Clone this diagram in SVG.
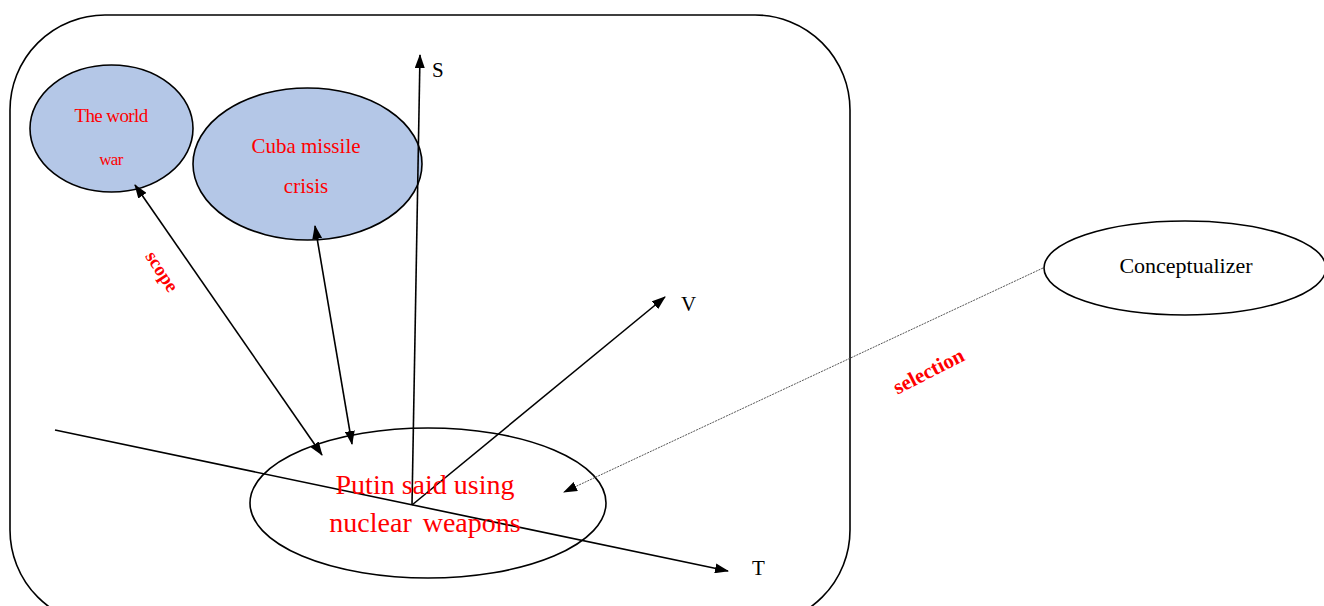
<svg xmlns="http://www.w3.org/2000/svg" width="1324" height="606" viewBox="0 0 1324 606">
<style>
.ln{stroke:#000;stroke-width:1.6;fill:none}
.blue{fill:#b4c7e7;stroke:#000;stroke-width:1.6}
.wht{fill:#fff;stroke:#000;stroke-width:1.6}
.red{fill:#ff0000;font-family:"Liberation Serif",serif;text-anchor:middle}
.blk{fill:#000;font-family:"Liberation Serif",serif}
</style>
<defs>
<marker id="ah" viewBox="0 0 14 10" refX="13" refY="5" markerWidth="14" markerHeight="10" markerUnits="userSpaceOnUse" orient="auto-start-reverse">
<path d="M0,0 L14,5 L0,10 z" fill="#000"/>
</marker>
</defs>
<rect x="10" y="15" width="840" height="610" rx="95" ry="95" fill="none" stroke="#000" stroke-width="1.6"/>
<g id="worldwar">
<ellipse class="blue" cx="111.5" cy="128.5" rx="81.5" ry="63.5"/>
<text class="red" x="111" y="122" font-size="19" letter-spacing="-0.6">The world</text>
<text class="red" x="111" y="165" font-size="17" letter-spacing="-0.6">war</text>
</g>
<g id="cuba">
<ellipse class="blue" cx="307.5" cy="164" rx="114.5" ry="76"/>
<text class="red" x="306" y="153" font-size="21">Cuba missile</text>
<text class="red" x="306" y="193" font-size="21">crisis</text>
</g>
<g id="putin">
<ellipse cx="428" cy="503" rx="178" ry="75" fill="none" stroke="#000" stroke-width="1.6"/>
</g>
<g id="conceptualizer">
<ellipse class="wht" cx="1185" cy="268" rx="141" ry="47"/>
<text class="blk" x="1186" y="273" font-size="22" text-anchor="middle">Conceptualizer</text>
</g>
<g id="connectors">
<line class="ln" x1="412" y1="505" x2="420" y2="55" marker-end="url(#ah)"/>
<line class="ln" x1="412" y1="505" x2="665" y2="297" marker-end="url(#ah)"/>
<line class="ln" x1="55" y1="430" x2="728" y2="571" marker-end="url(#ah)"/>
<line class="ln" x1="135" y1="185" x2="322" y2="455" marker-start="url(#ah)" marker-end="url(#ah)"/>
<line class="ln" x1="315" y1="226" x2="352" y2="444" marker-start="url(#ah)" marker-end="url(#ah)"/>
<line x1="1043" y1="268" x2="564" y2="492" stroke="#555" stroke-width="1" stroke-dasharray="2,1" marker-end="url(#ah)"/>
</g>
<text class="red" x="425" y="494" font-size="28">Putin said using</text>
<text class="red" x="425" y="532" font-size="28" word-spacing="4">nuclear weapons</text>
<text class="blk" x="432" y="77" font-size="21">S</text>
<text class="blk" x="681" y="311" font-size="21">V</text>
<text class="blk" x="752" y="575" font-size="21">T</text>
<text class="red" x="0" y="5" font-size="19" font-weight="bold" transform="translate(161,272) rotate(57)">scope</text>
<text class="red" x="0" y="6" font-size="21" font-weight="bold" transform="translate(929,372) rotate(-27)">selection</text>
</svg>
